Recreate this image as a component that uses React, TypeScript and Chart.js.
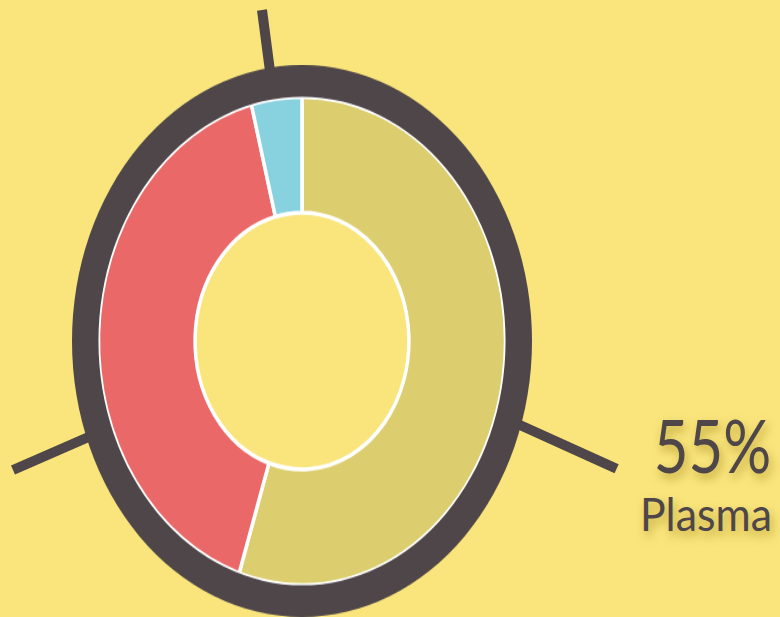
import React, { useEffect, useRef } from "react";
import { Chart, registerables } from "chart.js";

Chart.register(...registerables);

const labels = ["Plasma", "Red blood cells", "White blood cells & platelets"];
const values = [55, 41, 4];
const sliceColors = ["#dccd6e", "#ea6868", "#88d2e0"];
const ringValues = [100];
const ringColor = "#4e4648";
const bgColor = "#f9e57c";
const calloutValue = "55%";
const calloutLabel = "Plasma";

const lineStyle = (x1: number, y1: number, x2: number, y2: number): React.CSSProperties => {
  const dx = x2 - x1;
  const dy = y2 - y1;
  const len = Math.sqrt(dx * dx + dy * dy);
  const ang = (Math.atan2(dy, dx) * 180) / Math.PI;
  return {
    position: "absolute",
    left: x1,
    top: y1 - 5,
    width: len,
    height: 10,
    background: ringColor,
    transformOrigin: "0 50%",
    transform: `rotate(${ang}deg)`,
  };
};

export default function App() {
  const ref = useRef<HTMLCanvasElement | null>(null);

  useEffect(() => {
    if (!ref.current) return;
    const chart = new Chart(ref.current, {
      type: "doughnut",
      data: {
        labels,
        datasets: [
          {
            data: ringValues,
            backgroundColor: [ringColor],
            borderWidth: 0,
            weight: 26,
          },
          {
            data: values,
            backgroundColor: sliceColors,
            borderColor: "#ffffff",
            borderWidth: 3.5,
            weight: 95,
          },
        ],
      },
      options: {
        responsive: false,
        animation: false,
        events: [],
        cutout: "46.5%",
        layout: { padding: 0 },
        plugins: {
          legend: { display: false },
          tooltip: { enabled: false },
        },
      },
    });
    return () => chart.destroy();
  }, []);

  const shadow = "3px 5px 10px rgba(150,120,10,0.55)";

  return (
    <div
      style={{
        position: "fixed",
        left: 0,
        top: 0,
        width: 780,
        height: 617,
        background: bgColor,
        overflow: "hidden",
      }}
    >
      <div style={lineStyle(261.5, 10, 272, 90)} />
      <div style={lineStyle(13, 470, 100, 432)} />
      <div style={lineStyle(500, 416, 617, 469)} />
      <div
        style={{
          position: "absolute",
          left: 72,
          top: 111,
          width: 460,
          height: 460,
          transform: "scaleY(1.2)",
          transformOrigin: "50% 50%",
        }}
      >
        <canvas ref={ref} width={460} height={460} style={{ width: 460, height: 460, display: "block" }} />
      </div>
      <div
        style={{
          position: "absolute",
          right: 9,
          top: 405,
          fontFamily: "Lato, 'Open Sans', sans-serif",
          color: ringColor,
          textAlign: "right",
          fontSize: 73,
          lineHeight: "80px",
          whiteSpace: "nowrap",
          transform: "scaleX(0.82)",
          transformOrigin: "100% 0",
          textShadow: shadow,
        }}
      >
        {calloutValue}
      </div>
      <div
        style={{
          position: "absolute",
          right: 8,
          top: 485,
          fontFamily: "Lato, 'Open Sans', sans-serif",
          color: ringColor,
          textAlign: "right",
          fontSize: 47,
          lineHeight: "56px",
          whiteSpace: "nowrap",
          transform: "scaleX(0.91)",
          transformOrigin: "100% 0",
          textShadow: shadow,
        }}
      >
        {calloutLabel}
      </div>
    </div>
  );
}
